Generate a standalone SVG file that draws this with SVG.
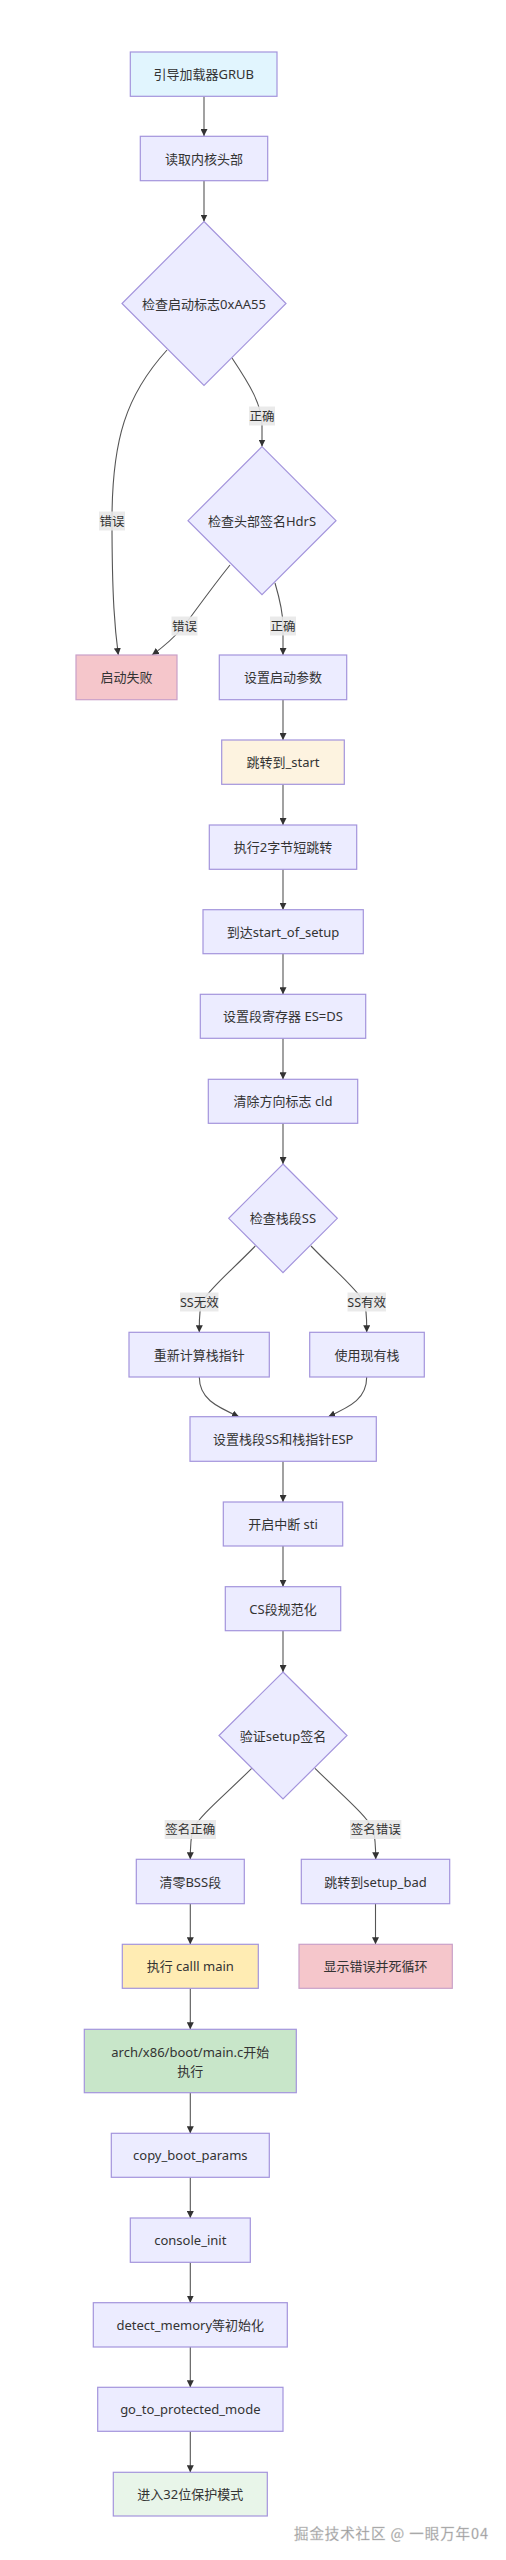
<svg xmlns="http://www.w3.org/2000/svg" width="506" height="2560" viewBox="0 0 506 2560">
<style>
.n rect,.n polygon{fill:#ECECFF;stroke:#a394dc;stroke-width:1.2}
.t{font-family:"Noto Sans","Noto Sans CJK SC",sans-serif;font-size:13px;fill:#333;text-anchor:middle;dominant-baseline:central}
.e path{fill:none;stroke:#555;stroke-width:1.1}
.lb rect{fill:#e8e8e8;opacity:0.9}
.lt{font-family:"Noto Sans","Noto Sans CJK SC",sans-serif;font-size:12.5px;fill:#333;text-anchor:middle;dominant-baseline:central}
.blue rect{fill:#e1f5fe}
.red rect{fill:#f5c6cb;stroke:#c9a0c8}
.cream rect{fill:#fdf3e0}
.amber rect{fill:#ffecb3}
.green rect{fill:#c8e6c9}
.lgreen rect{fill:#e8f5e9}
.wm{font-family:"Noto Sans CJK SC",sans-serif;font-size:14.5px;fill:#9a9a9a;stroke:#d0d0d0;stroke-width:0.3}
</style>
<defs>
<marker id="ah" markerWidth="7" markerHeight="7" refX="7" refY="3.5" orient="auto" markerUnits="userSpaceOnUse">
<path d="M0,0 L7,3.5 L0,7 z" fill="#333"/>
</marker>
</defs>
<rect width="506" height="2560" fill="#fff"/>
<g id="connectors" class="e">
<path marker-end="url(#ah)" d="M204,96.5 L204,136"/>
<path marker-end="url(#ah)" d="M204,180.7 L204,221.5"/>
<path marker-end="url(#ah)" d="M232,358 C250,385 262,405 262,425 L262,446.5"/>
<path marker-end="url(#ah)" d="M167,350 C126,395 112,440 112,520 C112,600 115,630 118.3,655"/>
<path marker-end="url(#ah)" d="M230,565 C210,590 196,610 184,626 C172,640 162,648 152,655"/>
<path marker-end="url(#ah)" d="M275,583 C280,600 283,612 283,626 L283,655"/>
<path marker-end="url(#ah)" d="M283,700 L283,740"/>
<path marker-end="url(#ah)" d="M283,784.3 L283,825"/>
<path marker-end="url(#ah)" d="M283,869.3 L283,909.7"/>
<path marker-end="url(#ah)" d="M283,953.7 L283,994.3"/>
<path marker-end="url(#ah)" d="M283,1038.3 L283,1079.3"/>
<path marker-end="url(#ah)" d="M283,1123.3 L283,1164"/>
<path marker-end="url(#ah)" d="M255.3,1246 C230,1272 210,1288 202,1302 C199,1310 199.3,1320 199.3,1332.3"/>
<path marker-end="url(#ah)" d="M311,1246 C336,1272 356,1288 364,1302 C367,1310 366.7,1320 366.7,1332.3"/>
<path marker-end="url(#ah)" d="M199.3,1377 C199.3,1398 215,1406 239,1416.7"/>
<path marker-end="url(#ah)" d="M366.7,1377 C366.7,1398 352,1406 328.3,1416.7"/>
<path marker-end="url(#ah)" d="M283,1461.3 L283,1502"/>
<path marker-end="url(#ah)" d="M283,1546 L283,1586.7"/>
<path marker-end="url(#ah)" d="M283,1630.7 L283,1672"/>
<path marker-end="url(#ah)" d="M251.7,1768.3 C225,1795 200,1815 193,1829 C190.5,1838 190.3,1848 190.3,1859.3"/>
<path marker-end="url(#ah)" d="M315,1768.3 C342,1795 366,1815 373,1829 C375.5,1838 375.7,1848 375.7,1859.3"/>
<path marker-end="url(#ah)" d="M190.3,1903.7 L190.3,1944.3"/>
<path marker-end="url(#ah)" d="M375.5,1903.7 L375.5,1944.3"/>
<path marker-end="url(#ah)" d="M190.3,1988.3 L190.3,2029.3"/>
<path marker-end="url(#ah)" d="M190.3,2092.7 L190.3,2133.3"/>
<path marker-end="url(#ah)" d="M190.3,2177.3 L190.3,2218"/>
<path marker-end="url(#ah)" d="M190.3,2262.3 L190.3,2302.7"/>
<path marker-end="url(#ah)" d="M190.3,2347 L190.3,2387.3"/>
<path marker-end="url(#ah)" d="M190.3,2431.3 L190.3,2472.3"/>
<g class="lb">
<rect x="249" y="406.5" width="26" height="19"/><text class="lt" x="262" y="416">正确</text>
<rect x="99" y="511.5" width="26" height="19"/><text class="lt" x="112" y="521">错误</text>
<rect x="171.5" y="616.5" width="26" height="19"/><text class="lt" x="184.5" y="626">错误</text>
<rect x="270" y="616.5" width="26" height="19"/><text class="lt" x="283" y="626">正确</text>
<rect x="180" y="1292.5" width="38.5" height="19"/><text class="lt" x="199.3" y="1302">SS无效</text>
<rect x="347.5" y="1292.5" width="38.5" height="19"/><text class="lt" x="366.7" y="1302">SS有效</text>
<rect x="164.7" y="1820" width="51.3" height="19"/><text class="lt" x="190.3" y="1829.5">签名正确</text>
<rect x="350" y="1820" width="51.3" height="19"/><text class="lt" x="375.7" y="1829.5">签名错误</text>
</g>
</g>
<g id="grub" class="n blue"><rect x="130.3" y="52" width="146.7" height="44.3"/><text class="t" x="203.7" y="74.2">引导加载器GRUB</text></g>
<g id="readhdr" class="n"><rect x="140.3" y="136.3" width="127.4" height="44.4"/><text class="t" x="204" y="158.5">读取内核头部</text></g>
<g id="chk55" class="n"><polygon points="204,221.5 286,303.5 204,385.5 122,303.5"/><text class="t" x="204" y="303.5">检查启动标志0xAA55</text></g>
<g id="chkhdrs" class="n"><polygon points="262,446.7 336,520.7 262,594.7 188,520.7"/><text class="t" x="262" y="520.7">检查头部签名HdrS</text></g>
<g id="bootfail" class="n red"><rect x="76" y="655" width="101" height="44.7"/><text class="t" x="126.5" y="677.3">启动失败</text></g>
<g id="setparams" class="n"><rect x="219.3" y="655" width="127.4" height="44.7"/><text class="t" x="283" y="677.3">设置启动参数</text></g>
<g id="jmpstart" class="n cream"><rect x="221.7" y="740" width="122.6" height="44.3"/><text class="t" x="283" y="762.2">跳转到_start</text></g>
<g id="shortjmp" class="n"><rect x="209.3" y="825" width="147.4" height="44.3"/><text class="t" x="283" y="847.2">执行2字节短跳转</text></g>
<g id="startofsetup" class="n"><rect x="203" y="909.7" width="160.3" height="44"/><text class="t" x="283" y="931.7">到达start_of_setup</text></g>
<g id="segreg" class="n"><rect x="200.3" y="994.3" width="165.4" height="44"/><text class="t" x="283" y="1016.3">设置段寄存器 ES=DS</text></g>
<g id="cld" class="n"><rect x="208.3" y="1079.3" width="149.4" height="44"/><text class="t" x="283" y="1101.3">清除方向标志 cld</text></g>
<g id="chkss" class="n"><polygon points="283,1164 337.3,1218.3 283,1272.6 228.7,1218.3"/><text class="t" x="283" y="1218.3">检查栈段SS</text></g>
<g id="recalc" class="n"><rect x="129" y="1332.3" width="140.3" height="44.7"/><text class="t" x="199.2" y="1354.6">重新计算栈指针</text></g>
<g id="usestack" class="n"><rect x="309.7" y="1332.3" width="114.6" height="44.7"/><text class="t" x="367" y="1354.6">使用现有栈</text></g>
<g id="setss" class="n"><rect x="190" y="1416.7" width="186.3" height="44.6"/><text class="t" x="283.2" y="1439">设置栈段SS和栈指针ESP</text></g>
<g id="sti" class="n"><rect x="223.3" y="1502" width="119.4" height="44"/><text class="t" x="283" y="1524">开启中断 sti</text></g>
<g id="cs" class="n"><rect x="225.3" y="1586.7" width="115.4" height="44"/><text class="t" x="283" y="1608.7">CS段规范化</text></g>
<g id="chksig" class="n"><polygon points="283,1672 347,1735.5 283,1799 219,1735.5"/><text class="t" x="283" y="1735.5">验证setup签名</text></g>
<g id="bss" class="n"><rect x="136.3" y="1859.3" width="108" height="44.4"/><text class="t" x="190.3" y="1881.5">清零BSS段</text></g>
<g id="setupbad" class="n"><rect x="301.3" y="1859.3" width="148.4" height="44.4"/><text class="t" x="375.5" y="1881.5">跳转到setup_bad</text></g>
<g id="callmain" class="n amber"><rect x="122.3" y="1944.3" width="136" height="44"/><text class="t" x="190.3" y="1966.3">执行 calll main</text></g>
<g id="deadloop" class="n red"><rect x="299" y="1944.3" width="153.3" height="44"/><text class="t" x="375.6" y="1966.3">显示错误并死循环</text></g>
<g id="mainc" class="n green"><rect x="84.3" y="2029.3" width="212" height="63.4"/><text class="t" x="190.3" y="2051.7">arch/x86/boot/main.c开始</text><text class="t" x="190.3" y="2070.7">执行</text></g>
<g id="copyboot" class="n"><rect x="111.3" y="2133.3" width="158" height="44"/><text class="t" x="190.3" y="2155.3">copy_boot_params</text></g>
<g id="console" class="n"><rect x="130.3" y="2218" width="120" height="44.3"/><text class="t" x="190.3" y="2240.2">console_init</text></g>
<g id="detect" class="n"><rect x="93.3" y="2302.7" width="194" height="44.3"/><text class="t" x="190.3" y="2324.9">detect_memory等初始化</text></g>
<g id="pm" class="n"><rect x="97.7" y="2387.3" width="185.3" height="44"/><text class="t" x="190.3" y="2409.3">go_to_protected_mode</text></g>
<g id="pm32" class="n lgreen"><rect x="113.3" y="2472.3" width="154" height="43.7"/><text class="t" x="190.3" y="2494.2">进入32位保护模式</text></g>
<text class="wm" x="294" y="2538.5" textLength="194">掘金技术社区 @ 一眼万年04</text>
</svg>
